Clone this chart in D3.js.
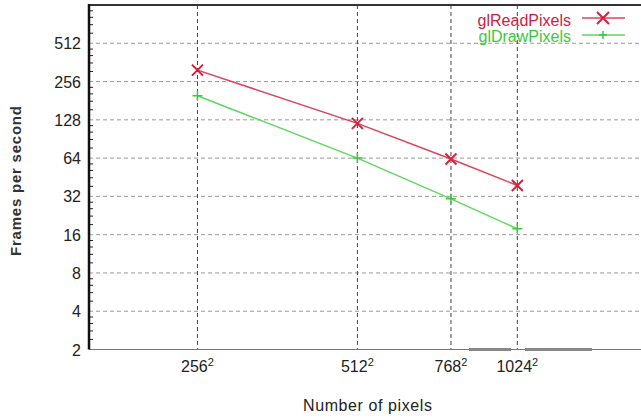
<!DOCTYPE html>
<html>
<head>
<meta charset="utf-8">
<script src="https://cdn.jsdelivr.net/npm/d3@7"></script>
<style>
  body { margin: 0; background: #fff; }
  svg { display: block; font-family: "Liberation Sans", Arial, sans-serif; }
</style>
</head>
<body>
<svg id="chart"></svg>
<script>
// image side length in pixels (x is side^2)
const sides = [256, 512, 768, 1024];
const readFps = [315, 120, 63, 39];
const drawFps = [198, 64, 30.6, 17.8];
const yTicks = [2, 4, 8, 16, 32, 64, 128, 256, 512];
const seriesNames = ["glReadPixels", "glDrawPixels"];

const width = 641, height = 419;
const margin = { top: 5, right: 0, bottom: 69.5, left: 89 };

const svg = d3.select("#chart").attr("width", width).attr("height", height);

const x = d3.scaleLog().base(2)
    .domain([160, 1750])
    .range([margin.left, width - margin.right]);
const y = d3.scaleLog().base(2)
    .domain([2, 1024])
    .range([height - margin.bottom, margin.top]);

const plotTop = margin.top, plotBottom = height - margin.bottom;

// horizontal grid
svg.append("g")
    .selectAll("line")
    .data(yTicks)
    .join("line")
    .attr("x1", margin.left).attr("x2", width)
    .attr("y1", d => y(d)).attr("y2", d => y(d))
    .attr("stroke", "#999").attr("stroke-width", 1)
    .attr("stroke-dasharray", "4,3");

// vertical grid
svg.append("g")
    .selectAll("line")
    .data(sides)
    .join("line")
    .attr("x1", d => x(d)).attr("x2", d => x(d))
    .attr("y1", plotTop).attr("y2", plotBottom)
    .attr("stroke", "#444").attr("stroke-width", 1)
    .attr("stroke-dasharray", "4,3");

// minor ticks on the y axis
let minor = [];
yTicks.concat([1024]).forEach(v => {
    if (v > 2) [0.6, 0.7, 0.8, 0.9].forEach(m => minor.push(v * m));
});
svg.append("g")
    .selectAll("line")
    .data(minor)
    .join("line")
    .attr("x1", margin.left).attr("x2", margin.left + 4)
    .attr("y1", d => y(d)).attr("y2", d => y(d))
    .attr("stroke", "#222");

// frame: top border, left axis, bottom axis
svg.append("line")
    .attr("x1", margin.left).attr("x2", width)
    .attr("y1", plotTop).attr("y2", plotTop)
    .attr("stroke", "#333").attr("stroke-width", 2);
svg.append("line")
    .attr("x1", margin.left).attr("x2", width)
    .attr("y1", plotBottom).attr("y2", plotBottom)
    .attr("stroke", "#777").attr("stroke-width", 1);
// grey smudge on the bottom axis in the original scan
svg.append("line")
    .attr("x1", 469).attr("x2", 511)
    .attr("y1", plotBottom).attr("y2", plotBottom)
    .attr("stroke", "#888").attr("stroke-width", 3);
svg.append("line")
    .attr("x1", 525).attr("x2", 592)
    .attr("y1", plotBottom).attr("y2", plotBottom)
    .attr("stroke", "#888").attr("stroke-width", 3);
svg.append("line")
    .attr("x1", margin.left).attr("x2", margin.left)
    .attr("y1", plotTop - 1).attr("y2", plotBottom)
    .attr("stroke", "#111").attr("stroke-width", 2.5);

// y tick labels
svg.append("g")
    .selectAll("text")
    .data(yTicks)
    .join("text")
    .attr("x", 81)
    .attr("y", d => y(d) + 6)
    .attr("text-anchor", "end")
    .attr("font-size", 16)
    .attr("fill", "#222")
    .text(d => d);

// x tick labels with superscript 2
const xl = svg.append("g")
    .selectAll("text")
    .data(sides)
    .join("text")
    .attr("x", d => x(d))
    .attr("y", 372)
    .attr("text-anchor", "middle")
    .attr("font-size", 16)
    .attr("fill", "#222");
xl.append("tspan").text(d => d);
xl.append("tspan").attr("dy", -6).attr("font-size", 11).text("2");

// axis titles
svg.append("text")
    .attr("x", 367.5).attr("y", 411)
    .attr("text-anchor", "middle")
    .attr("font-size", 16)
    .attr("textLength", 129)
    .attr("fill", "#222")
    .text("Number of pixels");
svg.append("text")
    .attr("transform", "translate(21,181) rotate(-90)")
    .attr("text-anchor", "middle")
    .attr("font-size", 15)
    .attr("font-weight", "bold")
    .attr("textLength", 150)
    .attr("fill", "#333")
    .text("Frames per second");

const line = d3.line().x(d => x(d[0])).y(d => y(d[1]));
const readPts = sides.map((s, i) => [s, readFps[i]]);
const drawPts = sides.map((s, i) => [s, drawFps[i]]);

const red = "#e0405a", green = "#5fd85f";

svg.append("path").datum(readPts).attr("d", line)
    .attr("fill", "none").attr("stroke", red).attr("stroke-width", 1.5);
svg.append("path").datum(drawPts).attr("d", line)
    .attr("fill", "none").attr("stroke", green).attr("stroke-width", 1.5);

function cross(g, cx, cy, r) {
    g.append("path")
        .attr("d", `M${cx - r},${cy - r}L${cx + r},${cy + r}M${cx - r},${cy + r}L${cx + r},${cy - r}`)
        .attr("stroke", "#d8203c").attr("stroke-width", 2).attr("fill", "none");
}
function plus(g, cx, cy, r) {
    g.append("path")
        .attr("d", `M${cx - r},${cy}L${cx + r},${cy}M${cx},${cy - r}L${cx},${cy + r}`)
        .attr("stroke", "#3cc83c").attr("stroke-width", 1.5).attr("fill", "none");
}

const marks = svg.append("g");
readPts.forEach(p => cross(marks, x(p[0]), y(p[1]), 5.5));
drawPts.forEach(p => plus(marks, x(p[0]), y(p[1]), 5));

// legend
const legend = svg.append("g");
legend.append("text")
    .attr("x", 571).attr("y", 26)
    .attr("text-anchor", "end").attr("font-size", 16)
    .attr("fill", "#d02040").text(seriesNames[0]);
legend.append("line")
    .attr("x1", 582).attr("x2", 625).attr("y1", 18).attr("y2", 18)
    .attr("stroke", red).attr("stroke-width", 1.5);
cross(legend, 603, 18, 6);
legend.append("text")
    .attr("x", 571).attr("y", 42)
    .attr("text-anchor", "end").attr("font-size", 16)
    .attr("fill", "#3cc83c").text(seriesNames[1]);
legend.append("line")
    .attr("x1", 582).attr("x2", 625).attr("y1", 35).attr("y2", 35)
    .attr("stroke", green).attr("stroke-width", 1.5);
plus(legend, 603, 35, 4);
</script>
</body>
</html>
